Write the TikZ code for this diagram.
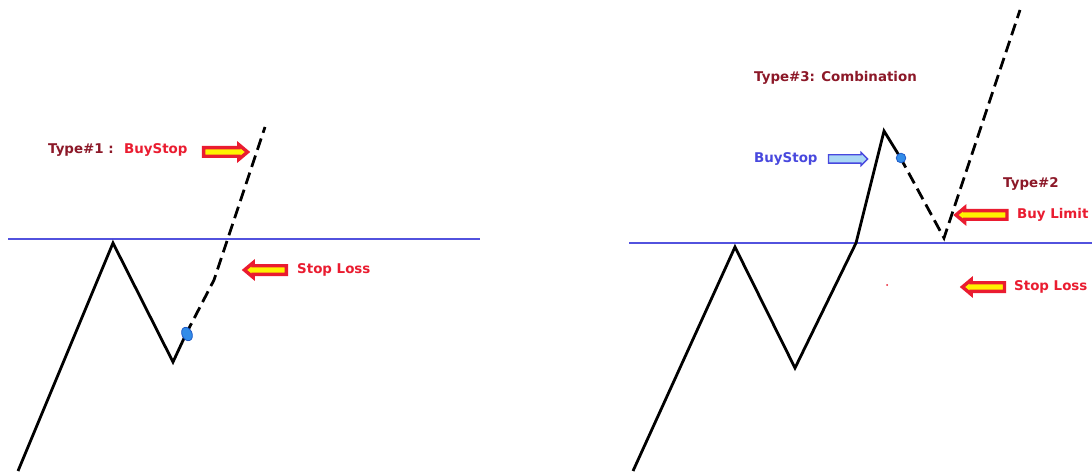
\documentclass[tikz,border=0pt]{standalone}
\usepackage{fontspec}
\setmainfont{DejaVu Sans}
\usetikzlibrary{shapes.arrows}
\definecolor{darkred}{RGB}{140,24,40}
\definecolor{brightred}{RGB}{234,28,48}
\definecolor{txtblue}{RGB}{72,72,222}
\definecolor{hline}{RGB}{82,82,222}
\definecolor{dotblue}{RGB}{50,140,232}
\definecolor{dotedge}{RGB}{30,90,200}
\definecolor{lightblue}{RGB}{170,215,245}
\tikzset{
  lbl/.style={font=\fontsize{13.4}{16}\selectfont\bfseries, inner sep=0pt, anchor=west},
  darklbl/.style={lbl, text=darkred},
  redlbl/.style={lbl, text=brightred},
  bluelbl/.style={lbl, text=txtblue},
  redarrow/.style={single arrow, draw=brightred, fill=yellow, line width=3.4pt,
    inner sep=2.6pt, minimum width=11.5pt, single arrow head extend=3pt,
    single arrow tip angle=80, outer sep=0pt},
  bluearrow/.style={single arrow, draw=txtblue, fill=lightblue, line width=1.3pt,
    inner sep=3.5pt, minimum width=12pt, single arrow head extend=2.5pt, outer sep=0pt},
  price/.style={line width=2.8pt, line join=miter, black},
  pricedash/.style={price, dash pattern=on 12pt off 6pt},
  level/.style={hline, line width=1.1pt},
  bluedot/.style={fill=dotblue, draw=dotedge, line width=0.8pt},
}
\begin{document}
\begin{tikzpicture}[x=1pt,y=-1pt]
\useasboundingbox[fill=white] (0,0) rectangle (1092,473);

% ---------- left chart ----------
\coordinate (la) at (18,471);
\coordinate (lb) at (113,243);
\coordinate (lc) at (173,362);
\coordinate (ld) at (186,334);
\coordinate (le) at (214,280);
\coordinate (lf) at (265,127);
\coordinate (lh1) at (8,239);
\coordinate (lh2) at (480,239);
\draw[level] (lh1) -- (lh2);
\draw[price] (la) -- (lb) -- (lc) -- (ld);
\draw[pricedash] (ld) -- (le) -- (lf);
\draw[bluedot, rotate around={25:(187,334)}] (187,334) ellipse [x radius=5, y radius=7];

\node[darklbl] (t1) at (48,150) {Type\#1 :};
\node[redlbl] (t1b) at (124,150) {BuyStop};
\node[redarrow, minimum height=44pt] (a1) at (223,152) {};
\node[redarrow, minimum height=42pt, shape border rotate=180] (a2) at (268,270) {};
\node[redlbl] (sl1) at (297,270) {Stop Loss};

% ---------- right chart ----------
\coordinate (ra) at (633,471);
\coordinate (rb) at (735,247);
\coordinate (rc) at (795,368);
\coordinate (rd) at (856,243);
\coordinate (re) at (884,131);
\coordinate (rf) at (900,157);
\coordinate (rg) at (944,238);
\coordinate (rh) at (1020,10);
\coordinate (rh1) at (629,243);
\coordinate (rh2) at (1092,243);
\draw[level] (rh1) -- (rh2);
\draw[price] (ra) -- (rb) -- (rc) -- (rd) -- (re) -- (rf);
\draw[pricedash] (rf) -- (rg) -- (rh);
\draw[bluedot] (901,158) circle [radius=4.8];
\fill[brightred] (887,285) circle [radius=1];

\node[darklbl] (t3) at (754,78) {Type\#3: Combination};
\node[bluelbl] (bs) at (754,159) {BuyStop};
\node[bluearrow, minimum height=39pt] (a3) at (846,159) {};
\node[darklbl] (t2) at (1003,184) {Type\#2};
\node[redarrow, minimum height=51pt, shape border rotate=180] (a4) at (984,215) {};
\node[redlbl] (bl) at (1017,215) {Buy Limit};
\node[redarrow, minimum height=42pt, shape border rotate=180] (a5) at (986,287) {};
\node[redlbl] (sl2) at (1014,287) {Stop Loss};
\end{tikzpicture}
\end{document}
